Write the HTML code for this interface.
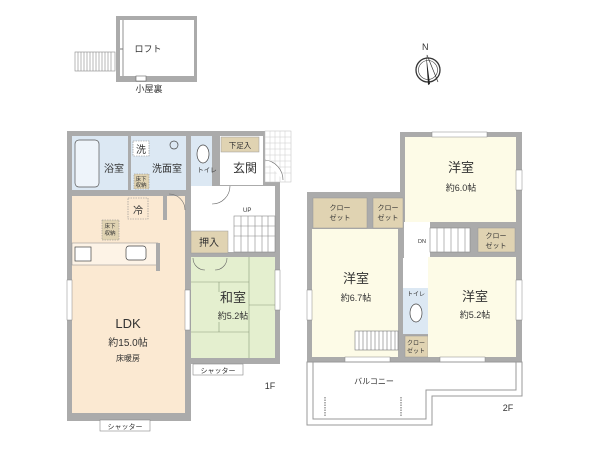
<!DOCTYPE html>
<html><head><meta charset="utf-8"><style>
html,body{margin:0;padding:0;background:#fff;}
svg{display:block;}
text{font-family:"Liberation Sans","Noto Sans CJK JP",sans-serif;fill:#333;}
</style></head><body>
<svg width="600" height="450" viewBox="0 0 600 450" xmlns="http://www.w3.org/2000/svg">
<!-- LOFT -->
<rect x="116" y="16" width="81" height="66" fill="#ababab"/>
<rect x="120" y="20" width="74" height="56" fill="#fff"/>
<line x1="123" y1="20" x2="123" y2="76" stroke="#777" stroke-width="0.8"/>
<line x1="120" y1="49" x2="123" y2="49" stroke="#777"/>
<rect x="136" y="76" width="10" height="5" fill="#fff" stroke="#666" stroke-width="0.6"/>
<g stroke="#888" stroke-width="0.6" fill="#fff">
<rect x="75" y="52" width="40" height="19"/>
<path d="M78 52v19M81 52v19M84 52v19M87 52v19M90 52v19M93 52v19M96 52v19M99 52v19M102 52v19M105 52v19M108 52v19M111 52v19"/>
</g>
<text x="148" y="52" font-size="9" text-anchor="middle">ロフト</text>
<text x="149" y="92" font-size="9" text-anchor="middle">小屋裏</text>
<!-- compass -->
<g transform="translate(428,70)">
<circle r="12" fill="none" stroke="#333" stroke-width="1.3"/>
<circle r="9.5" fill="none" stroke="#333" stroke-width="0.6"/>
<path d="M-2 -16 L2 14 L0 15 Z" fill="#222"/>
<path d="M-1 -15 L10 12" stroke="#333" stroke-width="0.7"/>
<text x="-6" y="-20" font-size="9" font-family="Liberation Serif">N</text>
</g>

<!-- 1F walls -->
<rect x="67" y="131" width="213" height="233" fill="#ababab"/>
<rect x="67" y="364" width="124" height="57" fill="#ababab"/>
<!-- bath -->
<rect x="72" y="136" width="56" height="54" fill="#dce8f3"/>
<rect x="75" y="140" width="24" height="47" rx="4" fill="#eef4fa" stroke="#555" stroke-width="0.7"/>
<text x="114" y="172" font-size="10" text-anchor="middle">浴室</text>
<!-- wash -->
<rect x="131" y="136" width="55" height="54" fill="#dce8f3"/>
<rect x="133" y="141" width="16" height="15" fill="#fff" stroke="#888" stroke-dasharray="1.5 1" stroke-width="0.6"/>
<text x="141" y="153" font-size="10" text-anchor="middle">洗</text>
<circle cx="174" cy="145" r="4" fill="none" stroke="#444" stroke-width="0.7"/>
<text x="167" y="172" font-size="10" text-anchor="middle">洗面室</text>
<rect x="134" y="174" width="15" height="15" fill="#e0d3b2" stroke="#888" stroke-dasharray="1.5 1" stroke-width="0.5"/>
<text x="141" y="181" font-size="5.5" text-anchor="middle">床下</text>
<text x="141" y="187" font-size="5.5" text-anchor="middle">収納</text>
<!-- toilet -->
<rect x="191" y="136" width="21" height="51" fill="#dce8f3"/>
<ellipse cx="203" cy="154" rx="6" ry="9" fill="#fff" stroke="#444" stroke-width="0.7"/>
<text x="207" y="172" font-size="6.5" text-anchor="middle">トイレ</text>
<!-- genkan -->
<rect x="220" y="136" width="43" height="49" fill="#fff"/>
<rect x="221" y="137" width="38" height="15" fill="#e0d3b2" stroke="#999" stroke-width="0.5"/>
<text x="240" y="148" font-size="7.5" text-anchor="middle">下足入</text>
<text x="245" y="172" font-size="12" text-anchor="middle">玄関</text>
<rect x="265" y="131" width="26" height="51" fill="#fff" stroke="#bbb" stroke-width="0.5"/>
<g stroke="#ccc" stroke-width="0.5">
<path d="M265 137h26M265 143h26M265 149h26M265 155h26M265 161h26M265 167h26M265 173h26M270 131v51M275 131v51M280 131v51M285 131v51"/>
</g>
<path d="M265 160 A20 20 0 0 1 283 180" fill="#fff" stroke="#666" stroke-width="0.6"/>
<!-- hall -->
<rect x="191" y="186" width="84" height="66" fill="#fff"/>
<rect x="234" y="216" width="41" height="36" fill="#fff" stroke="#888" stroke-width="0.6"/>
<g stroke="#888" stroke-width="0.6"><path d="M241 216v36M248 216v36M255 216v36M262 216v36M268 216v36M234 226h41M234 236h41"/></g>
<text x="243" y="212" font-size="6">UP</text>
<path d="M230 186 A18 18 0 0 1 212 204" fill="none" stroke="#666" stroke-width="0.6"/>
<!-- oshiire -->
<rect x="191" y="231" width="37" height="22" fill="#e0d3b2" stroke="#999" stroke-width="0.5"/>
<text x="209" y="246" font-size="10" text-anchor="middle">押入</text>
<!-- washitsu -->
<rect x="191" y="257" width="84" height="101" fill="#e4efcf"/>
<g stroke="#8a9a7a" stroke-width="0.6" fill="none">
<path d="M191 282h58M249 257v101M191 332h58M249 305h26M219 282v10M219 322v10"/>
</g>
<path d="M193 258 A12 12 0 0 0 205 270 M227 258 A12 12 0 0 1 215 270" fill="none" stroke="#666" stroke-width="0.6"/>
<text x="233" y="302" font-size="13" text-anchor="middle">和室</text>
<text x="233" y="319" font-size="9" text-anchor="middle">約5.2帖</text>
<rect x="193" y="364" width="50" height="11" fill="#fff" stroke="#888" stroke-width="0.6"/>
<text x="218" y="373" font-size="7" text-anchor="middle">シャッター</text>
<!-- LDK -->
<rect x="72" y="196" width="113" height="217" fill="#fbe9d2"/>
<rect x="128" y="198" width="20" height="21" fill="none" stroke="#888" stroke-dasharray="1.5 1" stroke-width="0.6"/>
<text x="138" y="214" font-size="10" text-anchor="middle">冷</text>
<rect x="102" y="220" width="17" height="20" fill="#e0d3b2" stroke="#888" stroke-dasharray="1.5 1" stroke-width="0.5"/>
<text x="110" y="228" font-size="5.5" text-anchor="middle">床下</text>
<text x="110" y="235" font-size="5.5" text-anchor="middle">収納</text>
<rect x="72" y="243" width="86" height="22" fill="#fdf3e6" stroke="#888" stroke-width="0.5"/>
<rect x="75" y="247" width="16" height="14" fill="#fff" stroke="#444" stroke-width="0.7"/>
<rect x="126" y="246" width="20" height="14" rx="3" fill="#fff" stroke="#444" stroke-width="0.7"/>
<rect x="156" y="243" width="4" height="28" fill="#ababab"/>
<rect x="163" y="196" width="4" height="24" fill="#ababab"/>
<path d="M185 210 A16 16 0 0 0 169 194" fill="none" stroke="#666" stroke-width="0.6"/>
<text x="128" y="328" font-size="13" text-anchor="middle">LDK</text>
<text x="128" y="346" font-size="10" text-anchor="middle">約15.0帖</text>
<text x="128" y="361" font-size="8" text-anchor="middle">床暖房</text>
<rect x="100" y="420" width="50" height="11" fill="#fff" stroke="#888" stroke-width="0.6"/>
<text x="125" y="429" font-size="7" text-anchor="middle">シャッター</text>
<text x="270" y="389" font-size="9" text-anchor="middle">1F</text>

<!-- 2F walls -->
<rect x="400" y="132" width="122" height="230" fill="#ababab"/>
<rect x="307" y="192" width="100" height="170" fill="#ababab"/>
<rect x="405" y="137" width="111" height="85" fill="#fdfbe7"/>
<text x="461" y="172" font-size="13" text-anchor="middle">洋室</text>
<text x="461" y="191" font-size="9" text-anchor="middle">約6.0帖</text>
<rect x="313" y="198" width="54" height="30" fill="#e0d3b2" stroke="#999" stroke-width="0.5"/>
<text x="340" y="210" font-size="7" text-anchor="middle">クロー</text>
<text x="340" y="220" font-size="7" text-anchor="middle">ゼット</text>
<rect x="373" y="198" width="30" height="30" fill="#e0d3b2" stroke="#999" stroke-width="0.5"/>
<text x="388" y="210" font-size="7" text-anchor="middle">クロー</text>
<text x="388" y="220" font-size="7" text-anchor="middle">ゼット</text>
<rect x="404" y="222" width="26" height="36" fill="#fff"/>
<rect x="430" y="228" width="40" height="24" fill="#fff" stroke="#888" stroke-width="0.6"/>
<g stroke="#888" stroke-width="0.6"><path d="M437 228v24M444 228v24M451 228v24M458 228v24M465 228v24"/></g>
<text x="418" y="243" font-size="5.5">DN</text>
<rect x="478" y="228" width="37" height="24" fill="#e0d3b2" stroke="#999" stroke-width="0.5"/>
<text x="496" y="238" font-size="7" text-anchor="middle">クロー</text>
<text x="496" y="248" font-size="7" text-anchor="middle">ゼット</text>
<rect x="312" y="229" width="86" height="128" fill="#fdfbe7"/>
<text x="356" y="283" font-size="13" text-anchor="middle">洋室</text>
<text x="356" y="301" font-size="9" text-anchor="middle">約6.7帖</text>
<rect x="355" y="331" width="43" height="19" fill="#fff" stroke="#777" stroke-width="0.6"/>
<g stroke="#777" stroke-width="0.6"><path d="M359 331v19M363 331v19M367 331v19M371 331v19M375 331v19M379 331v19M383 331v19M387 331v19M391 331v19M395 331v19"/></g>
<rect x="403" y="258" width="25" height="30" fill="#fff"/>
<rect x="403" y="288" width="25" height="46" fill="#dce8f3"/>
<text x="416" y="296" font-size="6" text-anchor="middle">トイレ</text>
<ellipse cx="416" cy="313" rx="6" ry="9" fill="#fff" stroke="#444" stroke-width="0.7"/>
<rect x="405" y="336" width="23" height="21" fill="#e0d3b2" stroke="#999" stroke-width="0.5"/>
<text x="416" y="345" font-size="6" text-anchor="middle">クロー</text>
<text x="416" y="353" font-size="6" text-anchor="middle">ゼット</text>
<rect x="428" y="257" width="88" height="100" fill="#fdfbe7"/>
<text x="475" y="301" font-size="13" text-anchor="middle">洋室</text>
<text x="475" y="318" font-size="9" text-anchor="middle">約5.2帖</text>
<!-- windows -->
<g fill="#fff" stroke="#888" stroke-width="0.5">
<rect x="432" y="132" width="55" height="5"/>
<rect x="516" y="170" width="6" height="20"/>
<rect x="516" y="280" width="6" height="40"/>
<rect x="307" y="290" width="5" height="30"/>
<rect x="345" y="357" width="45" height="5"/>
<rect x="440" y="357" width="45" height="5"/>
<rect x="67" y="280" width="5" height="40"/>
<rect x="185" y="290" width="5" height="40"/>
<rect x="275" y="270" width="5" height="40"/>
</g>
<!-- balcony -->
<path d="M307 362 H522 V396 H432 V425 H307 Z" fill="#fff" stroke="#999" stroke-width="1"/>
<path d="M313 362 V419 H426 V390 H516 V362" fill="none" stroke="#999" stroke-width="1"/>
<path d="M325 397v20M401 397v20" stroke="#999" stroke-dasharray="1.5 1" stroke-width="1.5"/>
<text x="374" y="384" font-size="8" text-anchor="middle">バルコニー</text>
<text x="508" y="411" font-size="9" text-anchor="middle">2F</text>
</svg>
</body></html>
